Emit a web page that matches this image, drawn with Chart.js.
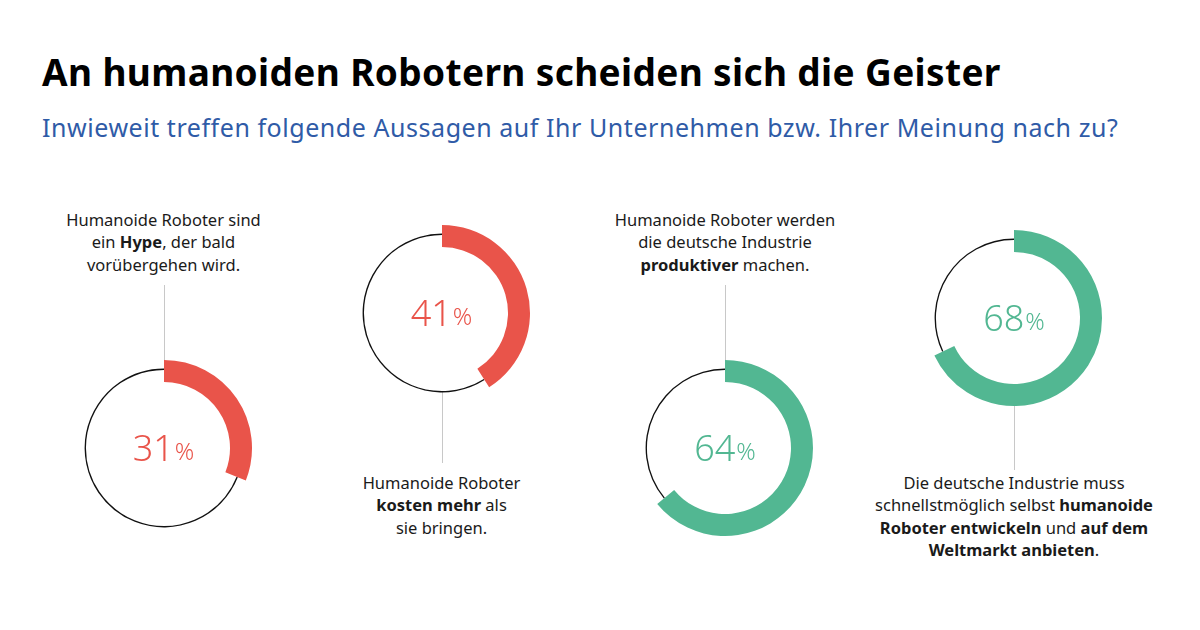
<!DOCTYPE html>
<html>
<head>
<meta charset="utf-8">
<script src="https://cdn.jsdelivr.net/npm/chart.js@4"></script>
<style>
  html, body { margin:0; padding:0; background:#fff; }
  body { width:1200px; height:630px; position:relative; overflow:hidden; font-family:"Noto Sans", "Open Sans", sans-serif; color:#1a1a1a; }
  #title { position:absolute; left:42px; top:49px; font-size:37px; font-weight:700; color:#000; white-space:nowrap; line-height:46px; letter-spacing:0.37px; }
  #subtitle { position:absolute; left:42px; top:110px; font-size:25px; color:#2f5ba7; white-space:nowrap; line-height:34px; letter-spacing:0.55px; }
  .lbl { position:absolute; transform:translateX(-50%); text-align:center; font-size:16.5px; line-height:22.3px; white-space:nowrap; color:#1a1a1a; }
  .lbl b { font-weight:700; }
  .conn { position:absolute; width:1px; background:#c8c8c8; }
  .wrap { position:absolute; width:180px; height:180px; }
  .wrap canvas { position:absolute; left:0; top:0; }
  .pct { position:absolute; left:0; top:0; width:180px; height:180px; display:flex; align-items:center; justify-content:center; font-weight:300; }
  .pct .n { font-size:36px; line-height:36px; }
  .pct .p { font-size:24px; line-height:24px; margin-left:1px; position:relative; top:3px; }
</style>
</head>
<body>
<div id="title">An humanoiden Robotern scheiden sich die Geister</div>
<div id="subtitle">Inwieweit treffen folgende Aussagen auf Ihr Unternehmen bzw. Ihrer Meinung nach zu?</div>
<div id="stage"></div>
<script>
// ---- data ----
const statements = [
  'Humanoide Roboter sind<br>ein <b>Hype</b>, der bald<br>vorübergehen wird.',
  'Humanoide Roboter<br><b>kosten mehr</b> als<br>sie bringen.',
  'Humanoide Roboter werden<br>die deutsche Industrie<br><b>produktiver</b> machen.',
  'Die deutsche Industrie muss<br>schnellstmöglich selbst <b>humanoide</b><br><b>Roboter entwickeln</b> und <b>auf dem</b><br><b>Weltmarkt anbieten</b>.'
];
const values = [31, 41, 64, 68];
const colors = ['#e9544a', '#e9544a', '#52b792', '#52b792'];

// ---- layout (positions kept separate from data) ----
const centers = [[163.5, 447.5], [441.5, 312.5], [725, 448], [1014, 318]];
const labelTops = [209, 472, 209, 472];
const connectors = [[285, 360], [392, 463], [285, 360], [406, 470]];

const baseOpts = (radius, cutout) => ({
  responsive: false,
  animation: false,
  events: [],
  radius: radius,
  cutout: cutout,
  layout: { padding: 0 },
  plugins: { legend: { display: false }, tooltip: { enabled: false } }
});

const stage = document.getElementById('stage');
values.forEach((v, i) => {
  const [cx, cy] = centers[i];
  const c = document.createElement('div');
  c.className = 'conn';
  c.style.left = (Math.round(cx) - 0.5) + 'px';
  c.style.top = connectors[i][0] + 'px';
  c.style.height = (connectors[i][1] - connectors[i][0]) + 'px';
  stage.appendChild(c);

  const l = document.createElement('div');
  l.className = 'lbl';
  l.style.left = cx + 'px';
  l.style.top = labelTops[i] + 'px';
  l.innerHTML = statements[i];
  stage.appendChild(l);

  const w = document.createElement('div');
  w.className = 'wrap';
  w.style.left = (cx - 90) + 'px';
  w.style.top = (cy - 90) + 'px';
  const ringCv = document.createElement('canvas');
  ringCv.width = 180; ringCv.height = 180;
  const arcCv = document.createElement('canvas');
  arcCv.width = 180; arcCv.height = 180;
  w.appendChild(ringCv);
  w.appendChild(arcCv);
  const p = document.createElement('div');
  p.className = 'pct';
  p.style.color = colors[i];
  p.innerHTML = '<span class="n">' + v + '</span><span class="p">%</span>';
  w.appendChild(p);
  stage.appendChild(w);

  const rest = 100 - v;
  // thin black circle for the remainder
  new Chart(ringCv, {
    type: 'doughnut',
    data: {
      labels: ['Zustimmung', 'Rest'],
      datasets: [{ data: [v, rest], backgroundColor: ['rgba(0,0,0,0)', '#111111'], borderWidth: 0 }]
    },
    options: baseOpts(79.4, '98.3%')
  });
  // thick coloured arc for the share
  new Chart(arcCv, {
    type: 'doughnut',
    data: {
      labels: ['Zustimmung', 'Rest'],
      datasets: [{ data: [v, rest], backgroundColor: [colors[i], 'rgba(0,0,0,0)'], borderWidth: 0 }]
    },
    options: baseOpts(88, '75%')
  });
});
</script>
</body>
</html>
